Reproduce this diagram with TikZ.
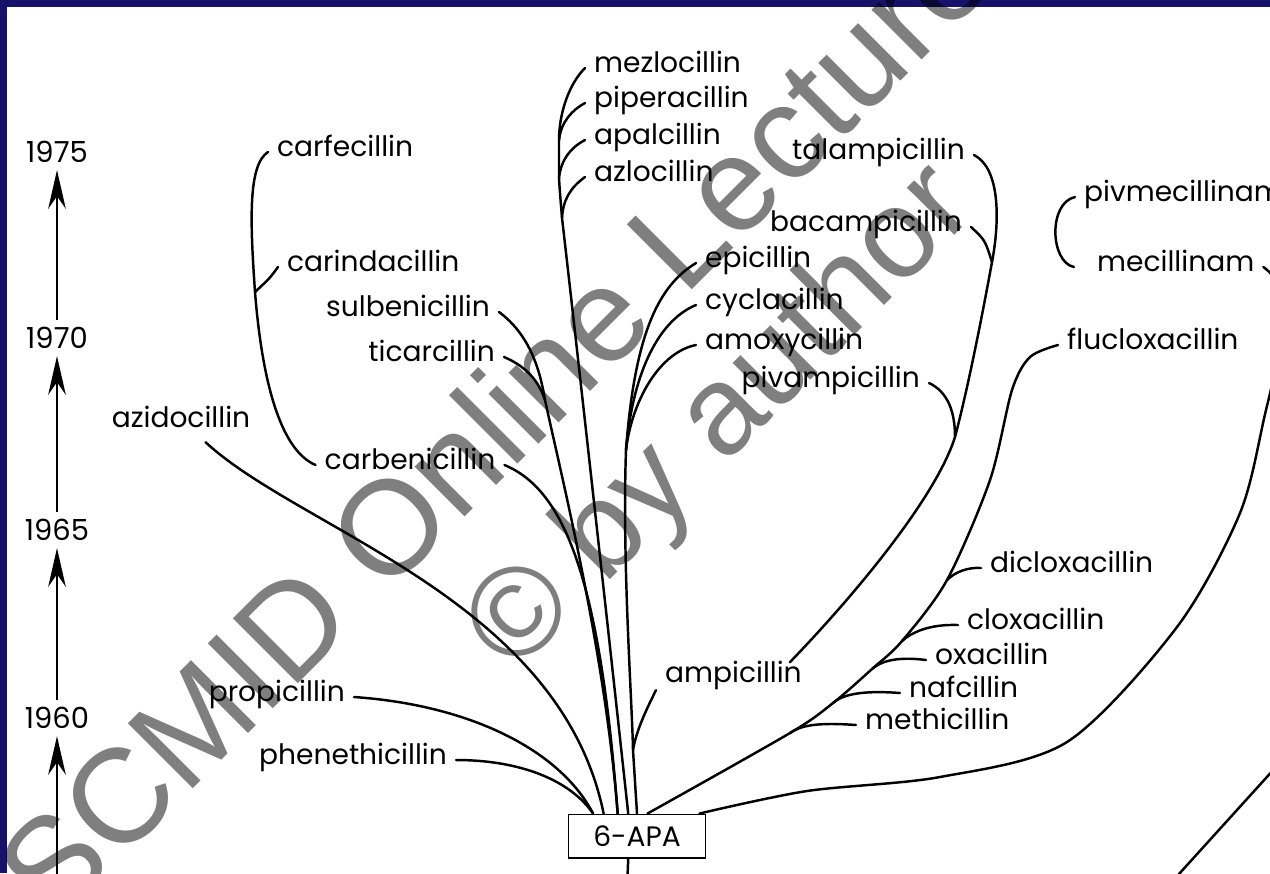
\documentclass[tikz,border=0pt]{standalone}
\usepackage{fontspec}
\setmainfont{Poppins}
\newfontfamily\markfont{Liberation Sans}
\usetikzlibrary{arrows.meta}
\definecolor{slideblue}{RGB}{22,17,105}

\begin{document}
\begin{tikzpicture}[x=0.02cm, y=-0.02cm,
        drug/.style={inner xsep=5pt, inner ysep=2pt, text height=1ex, text depth=0pt, font=\fontsize{16}{18}\selectfont},
        year/.style={inner sep=4pt, font=\fontsize{16.5}{18}\selectfont},
        apabox/.style={draw, line width=1.1pt, minimum width=78pt, minimum height=24.5pt, font=\fontsize{16}{18}\selectfont},
        branch/.style={line width=1.4pt, line cap=round},
        timearrow/.style={line width=1.6pt, -{Stealth[length=22pt, width=10pt]}},
        watermark/.style={rotate=45, inner sep=0pt, text=black, text opacity=0.5, font=\markfont\fontsize{76}{84}\selectfont}
    ]
    \useasboundingbox (0,0) rectangle (1270,873);
    \clip (0,0) rectangle (1270,873);
    \fill[white] (0,0) rectangle (1270,873);
    \fill[slideblue] (0,0) rectangle (1270,7);
    \fill[slideblue] (0,0) rectangle (7,873);

    % time axis
    \node[year] (y1975) at (57,152) {1975};
    \node[year] (y1970) at (57,338) {1970};
    \node[year] (y1965) at (57,530) {1965};
    \node[year] (y1960) at (57,718) {1960};
    \coordinate (tbase) at (57,885);
    \draw[timearrow] (y1970) -- (y1975);
    \draw[timearrow] (y1965) -- (y1970);
    \draw[timearrow] (y1960) -- (y1965);
    \draw[timearrow] (tbase) -- (y1960);

    % nucleus
    \node[apabox] (apa) at (637,836) {6-APA};
    \coordinate (apadown) at (627,890);

    % compounds
    \node[drug, anchor=west] (carfe) at (268,152) {carfecillin};
    \node[drug, anchor=west] (carinda) at (278,267) {carindacillin};
    \node[drug, anchor=east] (sulb) at (499,312) {sulbenicillin};
    \node[drug, anchor=east] (tica) at (504,357) {ticarcillin};
    \node[drug] (carben) at (410,465) {carbenicillin};
    \node[drug] (azido) at (181,423) {azidocillin};
    \node[drug, anchor=east] (propi) at (354,697) {propicillin};
    \node[drug, anchor=east] (phen) at (456,760) {phenethicillin};
    \node[drug, anchor=west] (mezlo) at (585,68) {mezlocillin};
    \node[drug, anchor=west] (piper) at (585,103) {piperacillin};
    \node[drug, anchor=west] (apal) at (585,140) {apalcillin};
    \node[drug, anchor=west] (azlo) at (585,177) {azlocillin};
    \node[drug, anchor=east] (tala) at (974,155) {talampicillin};
    \node[drug, anchor=east] (bacam) at (971,227) {bacampicillin};
    \node[drug, anchor=west] (epi) at (696,263) {epicillin};
    \node[drug, anchor=west] (cycla) at (696,305) {cyclacillin};
    \node[drug, anchor=west] (amoxy) at (696,345) {amoxycillin};
    \node[drug, anchor=east] (pivamp) at (929,383) {pivampicillin};
    \node[drug, anchor=west] (ampi) at (656,678) {ampicillin};
    \node[drug, anchor=west] (pivmec) at (1075,197) {pivmecillinam};
    \node[drug, anchor=west] (mecill) at (1088,267) {mecillinam};
    \node[drug, anchor=west] (fluclox) at (1058,345) {flucloxacillin};
    \node[drug, anchor=west] (diclo) at (981,568) {dicloxacillin};
    \node[drug, anchor=west] (clox) at (958,625) {cloxacillin};
    \node[drug, anchor=west] (oxa) at (926,660) {oxacillin};
    \node[drug, anchor=west] (naf) at (900,693) {nafcillin};
    \node[drug, anchor=west] (meth) at (856,725) {methicillin};

    % junctions
    \coordinate (jcarb) at (255,292);
    \coordinate (jsulb) at (545,400);
    \coordinate (jpip) at (559,140);
    \coordinate (japal) at (559,178);
    \coordinate (jazlo) at (562,218);
    \coordinate (jepi) at (626,450);
    \coordinate (jamp) at (633,750);
    \coordinate (jpiv) at (955,437);
    \coordinate (jbac) at (992,262);
    \coordinate (jmeth) at (790,733);
    \coordinate (jnaf) at (833,703);
    \coordinate (joxa) at (872,669);
    \coordinate (jclox) at (902,641);
    \coordinate (jdiclo) at (947,580);
    \coordinate (apaR) at ([xshift=6pt]apa.north);
    \coordinate (apaM) at ([xshift=-4pt]apa.north east);
    \coordinate (mecoff) at (1292,300);
    \coordinate (frA) at (1169,885);
    \coordinate (frB) at (1285,757);

    % left side chains
    \draw[branch] (phen.east) .. controls (520,760) and (570,780) .. ([xshift=-25pt]apa.north);
    \draw[branch] (propi.east) .. controls (470,705) and (560,750) .. ([xshift=-25pt]apa.north);
    \draw[branch] ([xshift=14pt,yshift=-6pt]azido.south) .. controls (300,530) and (560,600) .. ([xshift=-19pt]apa.north);
    \draw[branch] (carben.east) .. controls (565,490) and (600,580) .. ([xshift=-11pt]apa.north);
    \draw[branch] (carben.west) .. controls (280,450) and (262,380) .. (jcarb) .. controls (250,220) and (248,165) .. (carfe.west);
    \draw[branch] (carinda.west) .. controls (270,278) .. (jcarb);
    \draw[branch] (sulb.east) .. controls (530,335) and (540,370) .. (jsulb) .. controls (560,470) and (605,650) .. ([xshift=-11pt]apa.north);
    \draw[branch] (tica.east) .. controls (530,368) and (540,385) .. (jsulb);

    % ureido / acyl chains
    \draw[branch] (mezlo.west) .. controls (568,85) and (559,115) .. (jpip) -- (japal) .. controls (560,195) and (561,205) .. (jazlo) .. controls (575,330) and (605,600) .. ([xshift=-5pt]apa.north);
    \draw[branch] (piper.west) .. controls (572,110) and (561,122) .. (jpip);
    \draw[branch] (apal.west) .. controls (570,148) and (561,160) .. (japal);
    \draw[branch] (azlo.west) .. controls (570,188) and (563,200) .. (jazlo);

    % ampicillin family
    \draw[branch] (epi.west) .. controls (660,285) and (635,330) .. (jepi);
    \draw[branch] (cycla.west) .. controls (655,322) and (632,380) .. (jepi);
    \draw[branch] (amoxy.west) .. controls (660,352) and (632,400) .. (jepi);
    \draw[branch] (jepi) .. controls (622,560) and (632,700) .. (jamp) -- (apa.north);
    \draw[branch] ([yshift=-2pt]ampi.south west) .. controls (645,712) and (636,732) .. (jamp);
    \draw[branch] ([xshift=-12pt,yshift=4pt]ampi.north east) .. controls (850,600) and (935,500) .. (jpiv) .. controls (970,380) and (985,300) .. (jbac) .. controls (1000,220) and (1000,168) .. (tala.east);
    \draw[branch] (pivamp.east) .. controls (948,392) and (955,412) .. (jpiv);
    \draw[branch] (bacam.east) .. controls (985,240) .. (jbac);

    % isoxazolyl and others
    \draw[branch] plot[smooth] coordinates {(apaR) (jmeth) (jnaf) (joxa) (jclox) (jdiclo) (990,480) (1012,390) (1030,357) (fluclox.west)};
    \draw[branch] (meth.west) .. controls (815,722) and (800,726) .. (jmeth);
    \draw[branch] (naf.west) .. controls (860,690) and (842,695) .. (jnaf);
    \draw[branch] (oxa.west) .. controls (895,656) and (880,662) .. (joxa);
    \draw[branch] (clox.west) .. controls (930,624) and (912,632) .. (jclox);
    \draw[branch] (diclo.west) .. controls (968,567) and (955,572) .. (jdiclo);

    % amidino
    \draw[branch] plot[smooth] coordinates {(apaM) (807,791) (940,777) (1067,742) (1177,627) (1240,513) (1266,410) (mecoff)};
    \draw[branch] (mecill.east) .. controls (1270,272) .. (mecoff);
    \draw[branch] (pivmec.west) .. controls (1048,203) and (1050,262) .. ([xshift=-8pt]mecill.west);

    \draw[branch] (apa.south) ++(-5pt,0) -- (apadown);
    \draw[branch] (frA) -- (frB);

    % overlay
    \node[watermark, anchor=base] (wm1) at (527,455) {SCMID Online Lecture};
    \node[watermark, anchor=base west, font=\markfont\fontsize{72}{80}\selectfont] (wm2) at (514,676) {© by author};
\end{tikzpicture}
\end{document}
